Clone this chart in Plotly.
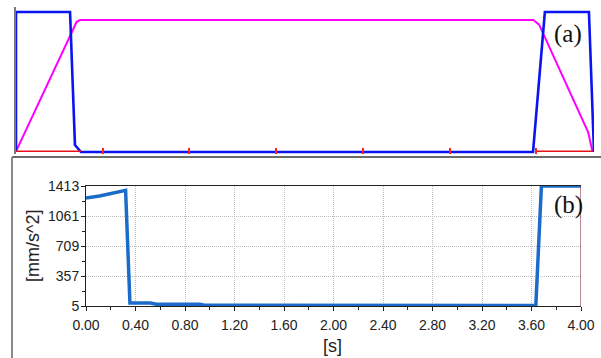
import plotly.graph_objects as go

W, H = 601, 358

# Upper panel (a): normalised motion profiles over one cycle
t_blue = [0.0, 0.0, 0.374, 0.408, 0.45, 3.578, 3.66, 3.965, 4.0]
v_blue = [0.0, 1.0, 1.0, 0.05, 0.0, 0.0, 1.0, 1.0, 0.0]

t_mag = [0.005, 0.42, 0.443, 3.58, 3.62, 3.96, 3.99]
v_mag = [0.015, 0.93, 0.943, 0.943, 0.91, 0.14, 0.0]

t_red = [0.0, 0.45, None, 3.60, 3.99]
v_red = [0.006, 0.006, None, 0.006, 0.006]

red_ticks = [0.6, 1.2, 1.8, 2.4, 3.0, 3.6]

# Lower panel (b): acceleration magnitude [mm/s^2]
t_acc = [0.0, 0.11, 0.32, 0.355, 0.52, 0.57, 0.92, 0.96, 3.635, 3.68, 4.0]
v_acc = [1272, 1296, 1362, 40, 40, 25, 25, 13, 10, 1413, 1413]

x_ticks = [0.0, 0.4, 0.8, 1.2, 1.6, 2.0, 2.4, 2.8, 3.2, 3.6, 4.0]
y_ticks = [5, 357, 709, 1061, 1413]


def px_x(p):
    return p / W


def px_y(p):
    return 1 - p / H


fig = go.Figure()

fig.add_trace(go.Scatter(x=t_mag, y=v_mag, mode="lines",
                         line=dict(color="#ff00ff", width=2),
                         xaxis="x", yaxis="y", showlegend=False))
fig.add_trace(go.Scatter(x=t_blue, y=v_blue, mode="lines",
                         line=dict(color="#0a14f0", width=2.6),
                         xaxis="x", yaxis="y", showlegend=False))
fig.add_trace(go.Scatter(x=t_red, y=v_red, mode="lines",
                         line=dict(color="#e8101a", width=1.6),
                         xaxis="x", yaxis="y", showlegend=False))

fig.add_trace(go.Scatter(x=t_acc, y=v_acc, mode="lines",
                         line=dict(color="#1a6cc8", width=3.5),
                         xaxis="x2", yaxis="y2", showlegend=False,
                         cliponaxis=False))

x_tick_font = dict(family="Liberation Sans Narrow, Arial Narrow, Liberation Sans, sans-serif",
                   size=14, color="#222222")
y_tick_font = dict(family="Liberation Sans, Arial, sans-serif", size=14, color="#222222")
grid_dash = "1px,1px"

fig.update_layout(
    width=W, height=H, autosize=False,
    margin=dict(l=0, r=0, t=0, b=0, pad=0),
    paper_bgcolor="white", plot_bgcolor="white",
    xaxis=dict(domain=[px_x(16), px_x(594)], range=[0, 4], anchor="y",
               automargin=False,
               showgrid=False, zeroline=False, showline=False,
               tickvals=red_ticks, ticks="inside", ticklen=6, tickwidth=2,
               tickcolor="#ff2020", showticklabels=False),
    yaxis=dict(domain=[px_y(154), px_y(7)], range=[-0.014, 1.036], anchor="x",
               automargin=False,
               showgrid=False, zeroline=False, showline=True,
               linecolor="#7a7a7a", linewidth=2, showticklabels=False, ticks=""),
    xaxis2=dict(domain=[px_x(86), px_x(581)], range=[0, 4], anchor="y2",
                automargin=False,
                tickvals=x_ticks, ticktext=[f"{v:.2f}" for v in x_ticks],
                showgrid=True, gridcolor="#bdbdbd", griddash=grid_dash, gridwidth=1,
                zeroline=False, showline=True, linecolor="#222222", linewidth=1,
                mirror=True, ticks="outside", ticklen=4, tickcolor="#222222",
                ticklabelstandoff=2,
                minor=dict(dtick=0.2, tick0=0, ticks="outside", ticklen=3,
                           tickcolor="#222222", showgrid=False),
                tickfont=x_tick_font),
    yaxis2=dict(domain=[px_y(306), px_y(186)], range=[5, 1413], anchor="x2",
                automargin=False,
                tickvals=y_ticks, ticktext=[str(v) for v in y_ticks],
                showgrid=True, gridcolor="#bdbdbd", griddash=grid_dash, gridwidth=1,
                zeroline=False, showline=True, linecolor="#222222", linewidth=1,
                ticks="outside", ticklen=4, tickcolor="#222222",
                ticklabelstandoff=-1,
                minor=dict(tickvals=[181, 533, 885, 1237], ticks="outside",
                           ticklen=3, tickcolor="#222222", showgrid=False),
                tickfont=y_tick_font),
    shapes=[
        # frame of the lower panel
        dict(type="line", xref="paper", yref="paper",
             x0=px_x(12), x1=1, y0=px_y(157), y1=px_y(157),
             line=dict(color="#3a3a3a", width=1.5)),
        dict(type="line", xref="paper", yref="paper",
             x0=px_x(12), x1=px_x(12), y0=px_y(157), y1=0,
             line=dict(color="#8a8a8a", width=2)),
        # right edge of the acceleration plot
        dict(type="line", xref="x2", yref="y2", x0=4, x1=4, y0=5, y1=1413,
             line=dict(color="#7a1a1a", width=1)),
    ],
    annotations=[
        dict(text="(a)", xref="paper", yref="paper", x=px_x(568), y=px_y(34),
             showarrow=False, xanchor="center", yanchor="middle",
             font=dict(family="Liberation Serif, Times New Roman, serif", size=25, color="#111111")),
        dict(text="(b)", xref="paper", yref="paper", x=px_x(568), y=px_y(205),
             showarrow=False, xanchor="center", yanchor="middle",
             font=dict(family="Liberation Serif, Times New Roman, serif", size=25, color="#111111")),
        dict(text="[mm/s^2]", xref="paper", yref="paper", x=px_x(33), y=px_y(246),
             showarrow=False, textangle=-90, xanchor="center", yanchor="middle",
             font=dict(family="Liberation Sans, Arial, sans-serif", size=18, color="#222222")),
        dict(text="[s]", xref="paper", yref="paper", x=px_x(333), y=px_y(346),
             showarrow=False, xanchor="center", yanchor="middle",
             font=dict(family="Liberation Sans, Arial, sans-serif", size=18, color="#222222")),
    ],
)

fig.write_html("out.html")
